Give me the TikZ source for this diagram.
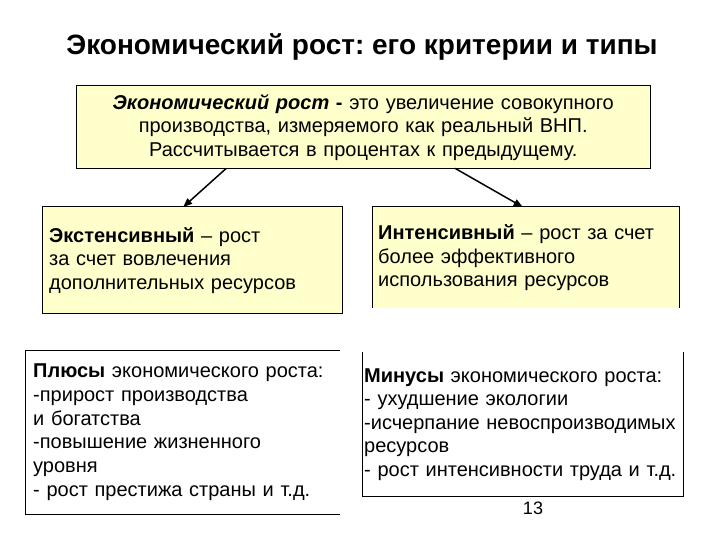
\documentclass[tikz,border=0pt]{standalone}
\usepackage{fontspec}
\setmainfont{Liberation Sans}
\usetikzlibrary{arrows.meta,positioning}
\definecolor{paleyellow}{RGB}{255,255,204}
\frenchspacing

\begin{document}
\begin{tikzpicture}[x=1pt, y=-1pt,
  box/.style={fill=paleyellow, inner xsep=7pt, inner ysep=0pt,
    anchor=north west, align=left,
    font=\fontsize{20}{23.5}\selectfont},
  plainbox/.style={box, fill=white},
  arr/.style={-{Triangle[length=9pt,width=7pt]}, line width=1.5pt},
  border/.style={line width=1pt},
]
\useasboundingbox (0,0) rectangle (720,540);

\node[font=\bfseries\fontsize{28}{32}\selectfont] (title) at (362,47)
  {Экономический рост: его критерии и типы};

% definition on top
\node[box, align=center, text width=560pt, minimum height=82pt] (def) at (76,86)
  {\textbf{\textit{Экономический рост} -} это увеличение совокупного\\
   производства, измеряемого как реальный ВНП.\\
   Рассчитывается в процентах к предыдущему.};
\draw[border] (def.south west) rectangle (def.north east);

% two types
\node[box, text width=286pt, minimum height=106pt] (ext) at (42,207)
  {\textbf{Экстенсивный} – рост\\
   за счет вовлечения\\
   дополнительных ресурсов};
\draw[border] (ext.south west) rectangle (ext.north east);

\node[box, inner xsep=6pt, text width=295pt, minimum height=101pt] (int) at (372,207)
  {\textbf{Интенсивный} – рост за счет\\
   более эффективного\\
   использования ресурсов};
\draw[border] (int.south west) -- (int.north west) -- (int.north east) -- (int.south east);

\draw[arr] ([xshift=-137pt]def.south) -- ([xshift=-9pt]ext.north);
\draw[arr] ([xshift=92pt]def.south) -- ([xshift=-3pt]int.north);

% pros and cons
\node[plainbox, inner xsep=8pt, text width=299pt, minimum height=164pt,
  font=\fontsize{20}{23.8}\selectfont] (plus) at (25,350)
  {\textbf{Плюсы} экономического роста:\\
   -прирост производства\\
   и богатства\\
   -повышение жизненного\\
   уровня\\
   - рост престижа страны и т.д.};
\draw[border] (plus.north east) -- (plus.north west) -- (plus.south west) -- (plus.south east);

\node[plainbox, inner xsep=2pt, text width=317pt, minimum height=144pt] (minus) at (362,352)
  {\textbf{Минусы} экономического роста:\\
   - ухудшение экологии\\
   -исчерпание невоспроизводимых\\
   ресурсов\\
   - рост интенсивности труда и т.д.};
\draw[border] (minus.north west) -- (minus.south west) -- (minus.south east) -- (minus.north east);

\node[font=\fontsize{18}{20}\selectfont] (page) at (533,508) {13};
\end{tikzpicture}
\end{document}
